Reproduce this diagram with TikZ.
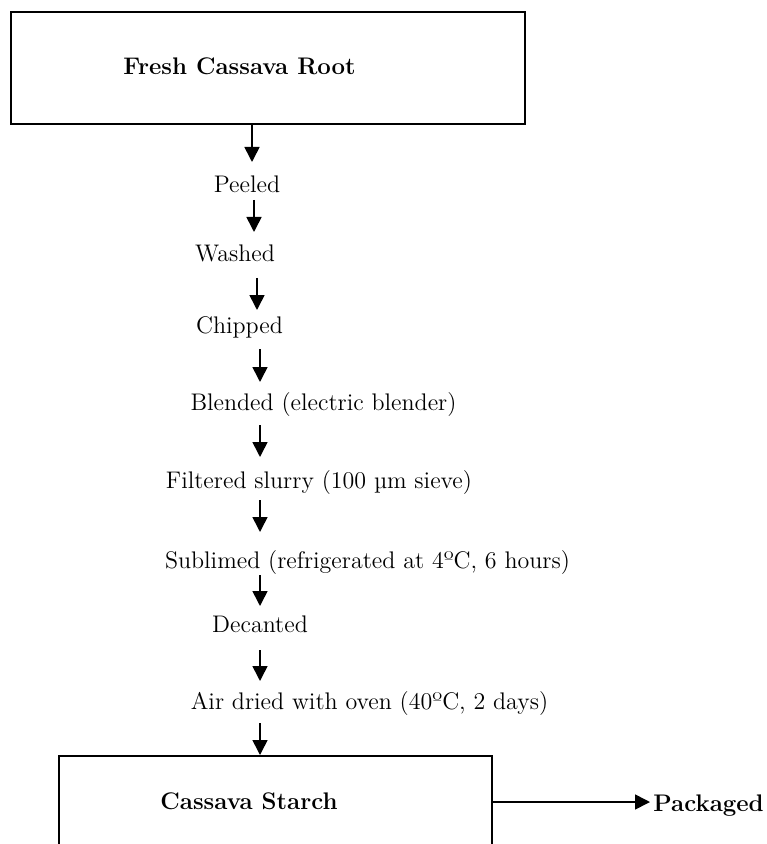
\documentclass[tikz,border=0pt]{standalone}
\usetikzlibrary{arrows.meta}
\begin{document}
\begin{tikzpicture}[x=0.5pt,y=-0.5pt,
  txt/.style={font=\fontsize{12}{14}\selectfont, inner sep=0pt, anchor=base},
  btxt/.style={txt, font=\fontsize{12}{14}\selectfont\bfseries},
  boxnode/.style={draw, line width=1pt, inner sep=0pt},
  arr/.style={line width=0.8pt, -{Triangle[width=7.5pt,length=7.5pt]}}]
\useasboundingbox (0,0) rectangle (766,844);
\clip (0,0) rectangle (766,844);
% boxes and texts
\node[boxnode, minimum width=257pt, minimum height=56pt] (rootbox) at (268,68) {};
\node[btxt] (root) at (239.5,75) {Fresh Cassava Root};
\node[txt] (peeled) at (247,193) {Peeled};
\node[txt] (washed) at (235,262) {Washed};
\node[txt] (chipped) at (239.5,333) {Chipped};
\node[txt] (blended) at (323.5,410) {Blended (electric blender)};
\node[txt] (filtered) at (319,488) {Filtered slurry (100 µm sieve)};
\node[txt] (sublimed) at (367.5,568) {Sublimed (refrigerated at 4ºC, 6 hours)};
\node[txt] (decanted) at (260,632) {Decanted};
\node[txt] (airdried) at (369.5,709) {Air dried with oven (40ºC, 2 days)};
\node[boxnode, minimum width=216.5pt, minimum height=72pt] (starchbox) at (275.5,828) {};
\node[btxt] (starch) at (249,809) {Cassava Starch};
\node[btxt, anchor=west, inner xsep=1.5pt, text height=10pt, text depth=1pt] (packaged) at (650,802) {Packaged};
% arrows
\draw[arr] ([shift={(-16,0)}]rootbox.south) -- ([shift={(5,-31)}]peeled.base);
\draw[arr] ([shift={(7,7)}]peeled.base) -- ([shift={(19,-30)}]washed.base);
\draw[arr] ([shift={(22,16)}]washed.base) -- ([shift={(17.5,-23)}]chipped.base);
\draw[arr] ([shift={(20.5,16)}]chipped.base) -- ([shift={(-63.5,-28)}]blended.base);
\draw[arr] ([shift={(-63.5,15)}]blended.base) -- ([shift={(-59,-31)}]filtered.base);
\draw[arr] ([shift={(-59,12)}]filtered.base) -- ([shift={(-107.5,-36)}]sublimed.base);
\draw[arr] ([shift={(-107.5,7)}]sublimed.base) -- ([shift={(0,-26)}]decanted.base);
\draw[arr] ([shift={(0,18)}]decanted.base) -- ([shift={(-109.5,-28)}]airdried.base);
\draw[arr] ([shift={(-109.5,14)}]airdried.base) -- ([shift={(-15.5,0)}]starchbox.north);
\draw[arr] (starchbox.east |- packaged.west) -- (packaged.west);
\end{tikzpicture}
\end{document}
